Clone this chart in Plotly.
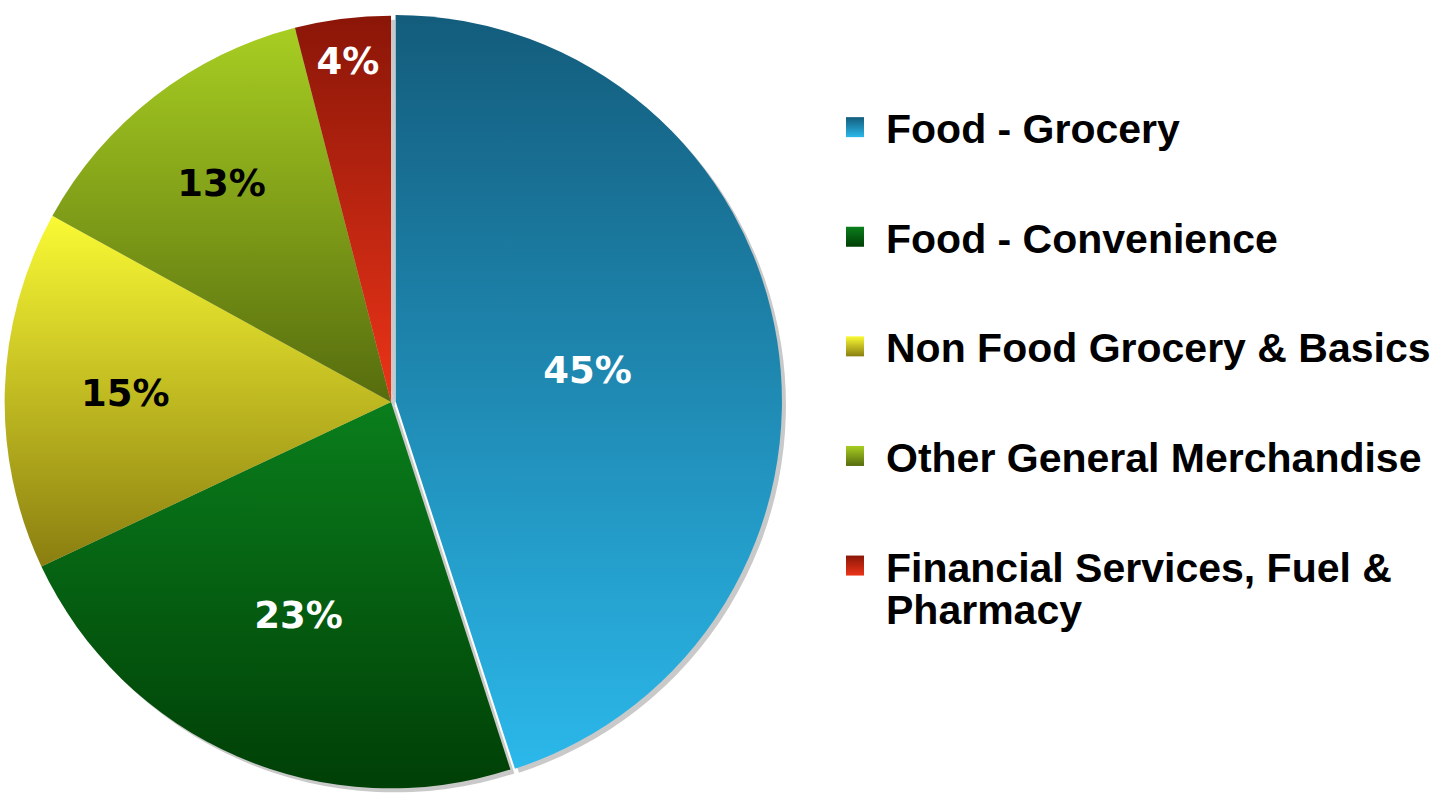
import plotly.graph_objects as go

# Sales mix by category (share of total, %)
categories = [
    "Food - Grocery",
    "Food - Convenience",
    "Non Food Grocery & Basics",
    "Other General Merchandise",
    "Financial Services, Fuel &<br>Pharmacy",
]
shares = [45, 23, 15, 13, 4]

# Slice styling
base_colors = ["#1f8fbd", "#066214", "#d2cc22", "#88a818", "#c02410"]
grad_top = ["#135c7c", "#0a7e1c", "#fafa34", "#a8ce22", "#8a1608"]
grad_bottom = ["#2bb8ea", "#003f06", "#8a7e10", "#566c0e", "#ec3418"]
label_colors = ["white", "white", "black", "black", "white"]
pull = [0.012, 0, 0, 0, 0]

W, H = 1443, 802
# pie square in pixels
px0, px1 = 0, 782
py0, py1 = 11, 793
shadow_dx, shadow_dy = 4, 4

legend_labels = [c if "<br>" in c else c + "<br> " for c in categories]

fig = go.Figure()

# soft grey drop shadow behind the pie
fig.add_trace(go.Pie(
    values=shares,
    sort=False,
    direction="clockwise",
    rotation=0,
    pull=pull,
    marker=dict(colors=["#c9c9c9"] * len(shares), line=dict(width=0)),
    textinfo="none",
    hoverinfo="skip",
    showlegend=False,
    domain=dict(
        x=[(px0 + shadow_dx) / W, (px1 + shadow_dx) / W],
        y=[1 - (py1 + shadow_dy) / H, 1 - (py0 + shadow_dy) / H],
    ),
))

fig.add_trace(go.Pie(
    labels=legend_labels,
    values=shares,
    sort=False,
    direction="clockwise",
    rotation=0,
    pull=pull,
    marker=dict(colors=base_colors, line=dict(width=0)),
    textinfo="percent",
    textposition="inside",
    insidetextorientation="horizontal",
    insidetextfont=dict(family="DejaVu Sans", size=37, color=label_colors, weight="bold"),
    domain=dict(x=[px0 / W, px1 / W], y=[1 - py1 / H, 1 - py0 / H]),
))

fig.update_layout(
    width=W,
    height=H,
    margin=dict(l=0, r=0, t=0, b=0),
    paper_bgcolor="white",
    plot_bgcolor="white",
    legend=dict(
        x=846 / W,
        y=1 - 94 / H,
        xanchor="left",
        yanchor="top",
        valign="top",
        font=dict(family="Liberation Sans", size=41, color="black", weight="bold"),
        bgcolor="rgba(0,0,0,0)",
    ),
)

# vertical colour gradients on the slices and legend swatches,
# plus tighter line spacing for wrapped legend labels
post = """
var gd = document.getElementById('{plot_id}');
var tops = %s, bots = %s;
function shade() {
  var svgNS = 'http://www.w3.org/2000/svg';
  var svg = gd.querySelector('svg.main-svg');
  var defs = svg.querySelector('defs');
  for (var i = 0; i < tops.length; i++) {
    if (document.getElementById('slicegrad' + i)) continue;
    var g = document.createElementNS(svgNS, 'linearGradient');
    g.setAttribute('id', 'slicegrad' + i);
    g.setAttribute('x1', '0'); g.setAttribute('y1', '0');
    g.setAttribute('x2', '0'); g.setAttribute('y2', '1');
    [[0, tops[i]], [1, bots[i]]].forEach(function (s) {
      var st = document.createElementNS(svgNS, 'stop');
      st.setAttribute('offset', s[0]);
      st.setAttribute('stop-color', s[1]);
      g.appendChild(st);
    });
    defs.appendChild(g);
  }
  var traces = gd.querySelectorAll('g.pielayer g.trace');
  var main = traces[traces.length - 1];
  main.querySelectorAll('g.slice path.surface').forEach(function (p, i) {
    p.style.fill = 'url(#slicegrad' + i + ')';
  });
  gd.querySelectorAll('g.legend path.legendpie').forEach(function (p, i) {
    p.style.fill = 'url(#slicegrad' + i + ')';
    p.style.strokeWidth = '0';
    p.removeAttribute('transform');
    p.setAttribute('d', 'M18,10H0V-10H18Z');
  });
  gd.querySelectorAll('g.legend text.legendtext').forEach(function (t) {
    var lines = t.querySelectorAll('tspan.line');
    for (var k = 1; k < lines.length; k++) lines[k].setAttribute('dy', '1.03em');
  });
}
shade();
gd.on('plotly_afterplot', shade);
""" % (str(grad_top), str(grad_bottom))

fig.write_html("out.html", post_script=post)
